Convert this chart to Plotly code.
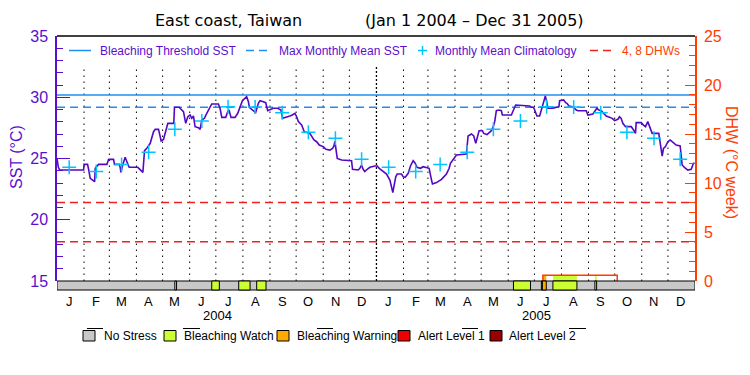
import pandas as pd
import plotly.graph_objects as go

# ---------------- data ----------------
START = pd.Timestamp("2004-01-01")
END = pd.Timestamp("2006-01-01")

# SST observations: day offset from 1 Jan 2004, value in deg C
sst_day = [
    0, 1.5, 3, 30.5, 31, 35, 36.2, 38.1, 43.1, 43.8,
    47.6, 57.2, 59.1, 64.8, 65.9, 71.3, 72.4, 73.2, 75.5, 78.1,
    80.1, 82.7, 92.6, 95.3, 98.4, 100.3, 102.9, 106.8, 110.6, 112.5,
    116.3, 117.4, 119.3, 122.0, 123.9, 127.0, 133.8, 134.6, 139.9, 143.0,
    144.9, 147.5, 149.9, 152.5, 154.4, 156.3, 158.2, 162.1, 164.0, 165.9,
    168.9, 171.6, 174.3, 177.3, 184.9, 186.8, 188.8, 193.3, 195.6, 197.1,
    199.4, 204.0, 207.1, 209.7, 212.4, 217.3, 219.3, 220.4, 225.0, 227.6,
    230.7, 232.6, 236.4, 239.1, 241.4, 244.0, 247.8, 252.8, 256.6, 258.5,
    263.1, 266.9, 269.6, 272.6, 274.6, 276.5, 280.3, 283.3, 289.8, 291.7,
    294.4, 297.5, 300.5, 303.2, 305.1, 308.1, 312.7, 315.7, 317.3, 318.4,
    319.6, 321.1, 326.1, 337.5, 338.6, 345.1, 347.0, 348.9, 350.8, 352.7,
    355.4, 358.5, 364.2, 366.9, 369.2, 377.6, 381.4, 383.3, 384.8, 386.0,
    388.2, 389.8, 394.7, 396.6, 398.9, 402.4, 405.0, 408.1, 410.0, 412.6,
    416.5, 419.5, 423.3, 426.4, 429.1, 430.2, 434.8, 440.5, 446.2, 449.3,
    450.8, 453.9, 457.7, 469.1, 469.9, 471.0, 474.8, 477.5, 479.8, 481.3,
    483.6, 487.4, 488.9, 492.7, 495.0, 497.7, 499.6, 501.5, 503.4, 506.4,
    509.1, 510.3, 520.6, 522.4, 523.6, 525.5, 541.5, 543.4, 546.1, 548.4,
    549.9, 553.0, 554.9, 556.8, 559.5, 560.6, 562.5, 568.2, 572.8, 575.1,
    575.9, 580.5, 582.8, 584.3, 586.6, 590.4, 595.0, 596.8, 606.4, 608.3,
    614.0, 616.0, 618.6, 620.9, 623.6, 626.2, 629.3, 636.2, 638.8, 642.6,
    644.5, 646.4, 648.3, 651.4, 657.9, 660.6, 662.8, 663.6, 669.3, 672.0,
    674.3, 676.9, 679.6, 681.9, 689.5, 691.1, 692.2, 693.4, 694.9, 697.2,
    699.9, 702.5, 704.8, 709.4, 714.0, 715.1, 716.3, 718.9, 722.8, 726.6,
    729.3, 730.5,
]
sst_val = [
    25.01, 24.30, 24.06, 24.06, 24.52, 24.52, 24.12, 23.38, 23.11, 24.20,
    24.52, 24.52, 24.93, 24.93, 24.52, 24.52, 24.28, 23.87, 24.52, 25.10,
    24.74, 24.28, 24.28, 24.12, 23.87, 25.64, 25.83, 26.24, 27.19, 27.38,
    27.38, 27.05, 26.43, 26.56, 27.05, 27.87, 27.87, 29.18, 29.18, 28.96,
    28.82, 27.87, 28.41, 28.55, 28.28, 28.47, 27.60, 27.52, 27.38, 28.14,
    28.28, 28.69, 29.10, 29.45, 29.45, 29.10, 28.36, 28.36, 28.82, 28.96,
    28.36, 28.36, 28.69, 29.23, 29.72, 30.05, 29.64, 29.18, 28.90, 28.74,
    29.50, 29.72, 29.64, 29.56, 28.90, 29.01, 29.10, 29.10, 28.96, 28.28,
    28.36, 28.47, 28.55, 28.69, 28.41, 28.01, 27.73, 27.19, 27.05, 26.78,
    26.51, 26.37, 26.10, 26.02, 25.97, 25.75, 25.69, 25.83, 26.02, 26.40,
    25.56, 25.01, 24.88, 24.82, 24.12, 24.06, 24.20, 24.47, 24.12, 23.93,
    24.12, 24.28, 24.39, 24.39, 24.20, 23.73, 23.24, 22.76, 22.21, 22.70,
    23.52, 23.73, 23.73, 23.52, 23.46, 23.79, 24.39, 24.82, 24.66, 24.28,
    24.20, 24.33, 24.28, 24.20, 23.24, 22.92, 23.03, 23.30, 23.73, 24.20,
    24.61, 24.88, 25.29, 25.37, 25.97, 26.84, 27.00, 26.84, 26.24, 26.73,
    27.27, 27.27, 27.05, 26.95, 27.10, 27.27, 27.54, 28.01, 28.90, 28.96,
    28.90, 28.55, 28.55, 28.82, 29.01, 29.37, 29.29, 29.18, 29.18, 28.82,
    28.47, 28.47, 28.96, 29.50, 30.10, 29.78, 29.10, 29.10, 29.18, 29.23,
    29.72, 29.78, 29.56, 29.50, 29.29, 29.23, 28.96, 28.90, 28.90, 28.55,
    28.63, 28.82, 29.10, 28.96, 28.90, 28.69, 28.47, 28.28, 28.09, 28.20,
    28.41, 28.28, 27.87, 27.60, 27.60, 27.33, 27.05, 27.93, 27.93, 27.73,
    27.60, 28.01, 27.46, 27.05, 27.05, 26.24, 25.69, 25.20, 25.83, 25.97,
    26.37, 26.51, 26.37, 26.10, 26.02, 25.29, 24.47, 24.28, 24.06, 24.12,
    24.61, 24.61,
]

# monthly mean climatology (Jan..Dec), plotted mid-month for both years
clim_val = [24.28, 23.93, 24.52, 25.52, 27.38, 28.07, 29.23, 29.20, 28.73, 27.14, 26.65, 24.93]
mmm = 29.18                     # max monthly mean
threshold = mmm + 1.0           # bleaching threshold
dhw_levels = [4, 8]

# DHW series (day offset, DHW in deg C weeks)
dhw_day = [556.7, 556.7, 641.9, 641.9]
dhw_val = [0, 0.58, 0.58, 0]

# stress-level periods (start day, end day, level)
stress_start = [135.0, 177.3, 208.2, 228.8, 523.0, 555.0, 556.1, 568.2, 616.3]
stress_end = [137.0, 186.0, 221.2, 239.5, 542.5, 556.1, 560.6, 595.7, 618.3]
stress_level = ["watch", "watch", "watch", "watch", "watch", "watch", "warning", "watch", "watch"]

month_labels = ["J", "F", "M", "A", "M", "J", "J", "A", "S", "O", "N", "D"]
years = [2004, 2005]
legend_names = ["No Stress", "Bleaching Watch", "Bleaching Warning", "Alert Level 1", "Alert Level 2"]

# ---------------- style ----------------
FONT = "Liberation Sans, Arial, sans-serif"
TFONT = "DejaVu Sans, sans-serif"
PURPLE = "#5a0fcf"
LINE_PURPLE = "#5508c4"
ORANGE = "#ff3d00"
BLUE = "#1e8ff0"
CYAN = "#00c4ff"
RED = "#f02020"
level_color = {"none": "#c8c8c8", "watch": "#ccff33", "warning": "#ffaa00",
               "alert1": "#ee0000", "alert2": "#990000"}
legend_colors = [level_color[k] for k in ["none", "watch", "warning", "alert1", "alert2"]]


def to_date(days):
    return [START + pd.Timedelta(days=float(d)) for d in days]


fig = go.Figure()

# monthly dotted grid
grid_top = 32.6
month_starts = pd.date_range("2004-02-01", "2005-12-01", freq="MS")
shapes = []
for m in month_starts:
    thick = (m.month == 1)
    shapes.append(dict(type="line", xref="x", yref="y", x0=m, x1=m, y0=15, y1=grid_top,
                       line=dict(color="black", width=1.3 if thick else 1,
                                 dash="2px,2px" if thick else "1.5px,4.5px"),
                       layer="below"))

# threshold and MMM
fig.add_trace(go.Scatter(x=[START, END], y=[threshold, threshold], mode="lines",
                         line=dict(color=BLUE, width=1.5), hoverinfo="skip"))
fig.add_trace(go.Scatter(x=[START, END], y=[mmm, mmm], mode="lines",
                         line=dict(color=BLUE, width=1.5, dash="8px,5px"), hoverinfo="skip"))
# DHW 4, 8 lines
for lv in dhw_levels:
    fig.add_trace(go.Scatter(x=[START, END], y=[lv, lv], mode="lines", yaxis="y2",
                             line=dict(color=RED, width=1.5, dash="8px,5px"), hoverinfo="skip"))

# stress fills under DHW curve
dhw_start, dhw_end, dhw_top = min(dhw_day), max(dhw_day), max(dhw_val)
for s, e, lv in zip(stress_start, stress_end, stress_level):
    a, b = max(s, dhw_start), min(e, dhw_end)
    if b > a:
        shapes.append(dict(type="rect", xref="x", yref="y2", x0=to_date([a])[0], x1=to_date([b])[0],
                           y0=0, y1=dhw_top, fillcolor=level_color[lv], line=dict(width=0),
                           layer="below"))

# SST line
fig.add_trace(go.Scatter(x=to_date(sst_day), y=sst_val, mode="lines",
                         line=dict(color=LINE_PURPLE, width=1.6), hoverinfo="skip"))

# climatology crosses
clim_x, clim_y = [], []
for y in years:
    for i, v in enumerate(clim_val):
        clim_x.append(pd.Timestamp(year=y, month=i + 1, day=15))
        clim_y.append(v)
fig.add_trace(go.Scatter(x=clim_x, y=clim_y, mode="markers",
                         marker=dict(symbol="cross-thin", size=10, line=dict(color=CYAN, width=1.5)),
                         hoverinfo="skip"))

# DHW line
fig.add_trace(go.Scatter(x=to_date(dhw_day), y=dhw_val, mode="lines", yaxis="y2",
                         line=dict(color=ORANGE, width=1.5), hoverinfo="skip"))

# stress bar below the plot
bar_y0, bar_y1 = -9.0 / 245, 0.0
shapes.append(dict(type="rect", xref="x", yref="paper", x0=START, x1=END, y0=bar_y0, y1=bar_y1,
                   fillcolor=level_color["none"], line=dict(color="black", width=1), layer="above"))
for s, e, lv in zip(stress_start, stress_end, stress_level):
    shapes.append(dict(type="rect", xref="x", yref="paper", x0=to_date([s])[0], x1=to_date([e])[0],
                       y0=bar_y0, y1=bar_y1, fillcolor=level_color[lv],
                       line=dict(color="black", width=1), layer="above"))

# top border
shapes.append(dict(type="line", xref="paper", yref="paper", x0=0, x1=1, y0=1, y1=1,
                   line=dict(color="black", width=1.5)))

# window-pixel helpers (plot area occupies x 57..695, y 36..281 of the window)
PW, PH, L, T = 638.0, 245.0, 57.0, 36.0


def px(x):
    return (x - L) / PW


def py(y):
    return (T + PH - y) / PH


annotations = []
# title
annotations.append(dict(text="East coast, Taiwan", x=px(228), y=py(21), xref="paper", yref="paper",
                        xanchor="center", yanchor="middle", showarrow=False,
                        font=dict(family=TFONT, size=16, color="black")))
annotations.append(dict(text="(Jan 1 2004 \u2013 Dec 31 2005)", x=px(474), y=py(21), xref="paper",
                        yref="paper", xanchor="center", yanchor="middle", showarrow=False,
                        font=dict(family=TFONT, size=16, color="black")))

# top legend
ly = py(50.5)
shapes.append(dict(type="line", xref="paper", yref="paper", x0=px(69), x1=px(91), y0=ly, y1=ly,
                   line=dict(color=BLUE, width=1.5)))
shapes.append(dict(type="line", xref="paper", yref="paper", x0=px(246), x1=px(271), y0=ly, y1=ly,
                   line=dict(color=BLUE, width=1.5, dash="8px,5px")))
shapes.append(dict(type="line", xref="paper", yref="paper", x0=px(590), x1=px(616), y0=ly, y1=ly,
                   line=dict(color=RED, width=1.5, dash="8px,5px")))
shapes.append(dict(type="line", xref="paper", yref="paper", x0=px(418), x1=px(427), y0=ly, y1=ly,
                   line=dict(color=CYAN, width=1.5)))
shapes.append(dict(type="line", xref="paper", yref="paper", x0=px(422.5), x1=px(422.5),
                   y0=py(46), y1=py(55), line=dict(color=CYAN, width=1.5)))
for txt, x0, col in [("Bleaching Threshold SST", 98, PURPLE), ("Max Monthly Mean SST", 277, PURPLE),
                     ("Monthly Mean Climatology", 433, PURPLE), ("4, 8 DHWs", 620, ORANGE)]:
    annotations.append(dict(text=txt, x=px(x0), y=ly, xref="paper", yref="paper", xanchor="left",
                            yanchor="middle", showarrow=False, font=dict(family=FONT, size=12, color=col)))

# month labels
for y in years:
    for i, lab in enumerate(month_labels):
        annotations.append(dict(text=lab, x=pd.Timestamp(year=y, month=i + 1, day=15), y=py(301.5),
                                xref="x", yref="paper", xanchor="center", yanchor="middle",
                                showarrow=False, font=dict(family=FONT, size=13, color="black")))
    annotations.append(dict(text=str(y), x=pd.Timestamp(year=y, month=7, day=3), y=py(315),
                            xref="x", yref="paper", xanchor="center", yanchor="middle",
                            showarrow=False, font=dict(family=FONT, size=13, color="black")))

# small underline marks
for a, b in [(87, 103), (183, 200), (317, 333), (462, 478), (569, 586)]:
    shapes.append(dict(type="line", xref="paper", yref="paper", x0=px(a), x1=px(b), y0=py(328.5),
                       y1=py(328.5), line=dict(color="black", width=1)))

# bottom legend
for name, col, bx, tx in zip(legend_names, legend_colors, [83, 164, 277, 398, 490],
                             [101.5, 181.5, 295, 416, 506.5]):
    shapes.append(dict(type="rect", xref="paper", yref="paper", x0=px(bx), x1=px(bx + 12),
                       y0=py(341), y1=py(330.5), fillcolor=col, line=dict(color="black", width=1)))
    annotations.append(dict(text=name, x=px(tx), y=py(336), xref="paper", yref="paper",
                            xanchor="left", yanchor="middle", showarrow=False,
                            font=dict(family=FONT, size=12, color="black")))

# axis titles
annotations.append(dict(text="SST (\u00b0C)", x=px(16), y=py(157), xref="paper", yref="paper",
                        xanchor="center", yanchor="middle", textangle=-90, showarrow=False,
                        font=dict(family=FONT, size=16, color=PURPLE)))
annotations.append(dict(text="DHW (\u00b0C week)", x=px(732), y=py(162), xref="paper", yref="paper",
                        xanchor="center", yanchor="middle", textangle=90, showarrow=False,
                        font=dict(family=FONT, size=16, color=ORANGE)))

# the page body has an 8px margin, so the figure is 8px smaller and margins shifted by 8px
fig.update_layout(
    width=742, height=367,
    margin=dict(l=49, r=55, t=28, b=94, autoexpand=False),
    paper_bgcolor="white", plot_bgcolor="white",
    showlegend=False,
    xaxis=dict(type="date", range=[START, END], showgrid=False, zeroline=False, showline=False,
               showticklabels=False, ticks="", automargin=False),
    yaxis=dict(range=[15, 35], tick0=15, dtick=5, ticks="inside", ticklen=13, tickwidth=1,
               tickcolor=PURPLE, showgrid=False, zeroline=False, showline=True, linecolor=PURPLE,
               linewidth=1.5, tickfont=dict(family=FONT, size=16, color=PURPLE),
               ticklabelstandoff=4, automargin=False,
               minor=dict(ticks="inside", ticklen=6, dtick=1, tickcolor=PURPLE, tickwidth=1)),
    yaxis2=dict(range=[0, 25], overlaying="y", side="right", tick0=0, dtick=5, ticks="inside",
                ticklen=10, tickwidth=1, tickcolor=ORANGE, showgrid=False, zeroline=False,
                showline=True, linecolor=ORANGE, linewidth=1.5, automargin=False,
                tickfont=dict(family=FONT, size=16, color=ORANGE), ticklabelstandoff=4,
                minor=dict(ticks="inside", ticklen=6, dtick=1, tickcolor=ORANGE, tickwidth=1)),
    shapes=shapes,
    annotations=annotations,
)

fig.write_html("out.html")
